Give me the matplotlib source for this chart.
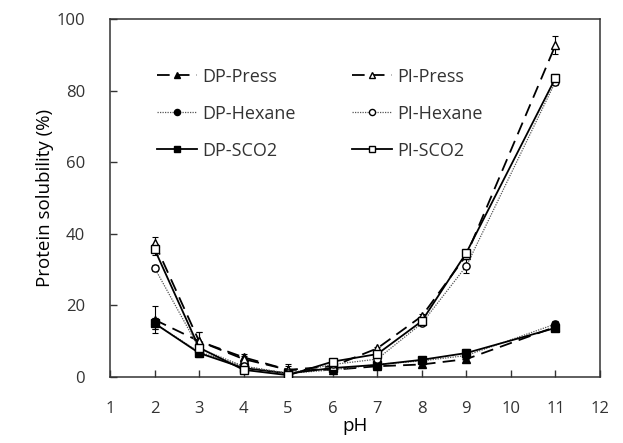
import numpy as np
import matplotlib
matplotlib.use("Agg")
import matplotlib.pyplot as plt

plt.rcParams['font.family'] = ['Open Sans', 'DejaVu Sans']
plt.rcParams['text.color'] = '#333333'

ph = [2, 3, 4, 5, 6, 7, 8, 9, 11]

dp_press = [16.0, 10.0, 5.5, 2.0, 2.0, 3.0, 3.5, 5.0, 14.0]
dp_press_err = [3.7, 2.5, 1.0, 1.0, 0.5, 0.5, 0.5, 0.8, 0.8]
dp_hexane = [15.0, 7.0, 3.0, 1.0, 2.0, 3.5, 4.5, 6.0, 14.8]
dp_hexane_err = [1.5, 1.0, 0.8, 0.5, 0.5, 0.5, 0.5, 0.5, 0.8]
dp_sco2 = [15.0, 6.7, 2.5, 1.0, 2.5, 3.4, 4.8, 6.7, 13.7]
dp_sco2_err = [1.5, 1.0, 0.8, 0.5, 0.5, 0.5, 0.8, 1.2, 0.5]

pi_press = [37.4, 10.0, 5.0, 2.0, 3.0, 8.0, 17.0, 34.0, 92.7]
pi_press_err = [1.8, 2.5, 1.0, 1.5, 0.5, 0.5, 0.5, 1.0, 2.5]
pi_hexane = [30.5, 8.0, 3.0, 1.0, 3.5, 5.0, 15.0, 31.0, 82.5]
pi_hexane_err = [0.8, 0.8, 0.5, 0.5, 0.5, 0.5, 0.5, 2.0, 0.8]
pi_sco2 = [35.7, 8.2, 2.0, 0.5, 4.3, 6.4, 15.6, 34.7, 83.5]
pi_sco2_err = [1.5, 0.8, 1.0, 0.5, 0.5, 0.5, 0.5, 0.8, 1.0]

fig = plt.figure(figsize=(6.23, 4.43), dpi=100)
ax = fig.add_axes([110/623, 1 - 377/443, 490/623, 358/443])

dash = (0, (7, 4))
series = [
    ("DP-Press", dp_press, dp_press_err, dash, '^', 'black'),
    ("DP-Hexane", dp_hexane, dp_hexane_err, (0, (1, 1)), 'o', 'black'),
    ("DP-SCO2", dp_sco2, dp_sco2_err, '-', 's', 'black'),
    ("PI-Press", pi_press, pi_press_err, dash, '^', 'white'),
    ("PI-Hexane", pi_hexane, pi_hexane_err, (0, (1, 1)), 'o', 'white'),
    ("PI-SCO2", pi_sco2, pi_sco2_err, '-', 's', 'white'),
]

handles = []
for name, vals, err, ls, mk, fc in series:
    lw = 0.9 if mk == 'o' else 1.3
    lc = '#555555' if mk == 'o' else 'black'
    ax.errorbar(ph, vals, yerr=err, fmt='none', ecolor='black', elinewidth=0.8,
                capsize=2.5, capthick=0.8, zorder=2)
    h, = ax.plot(ph, vals, linestyle=ls, color=lc, linewidth=lw, marker=mk,
                 markersize=5.2, markerfacecolor=fc, markeredgecolor='black',
                 markeredgewidth=1.0, label=name, zorder=3)
    handles.append(h)

ax.set_xlim(1, 12)
ax.set_ylim(0, 100)
ax.set_xticks(range(1, 13))
ax.set_yticks(range(0, 101, 20))
ax.tick_params(direction='in', length=5, width=1, labelsize=12,
               color='#333333', labelcolor='#333333')
ax.tick_params(axis='x', pad=17)
ax.tick_params(axis='y', pad=18)
for s in ax.spines.values():
    s.set_linewidth(1.1)
    s.set_color('#333333')

ax.set_xlabel("pH", fontsize=13.5, labelpad=0)
ax.set_ylabel("Protein solubility (%)", fontsize=13.5, labelpad=2)

leg_kw = dict(loc='upper left', frameon=False, fontsize=13, handlelength=2.2,
              handletextpad=0.33, labelspacing=1.05, borderpad=0,
              borderaxespad=0, markerscale=0.85)
leg1 = ax.legend(handles=handles[:3], bbox_to_anchor=(0.096, 0.864), **leg_kw)
ax.add_artist(leg1)
ax.legend(handles=handles[3:], bbox_to_anchor=(0.494, 0.864), **leg_kw)

fig.savefig("out.png", dpi=100)
